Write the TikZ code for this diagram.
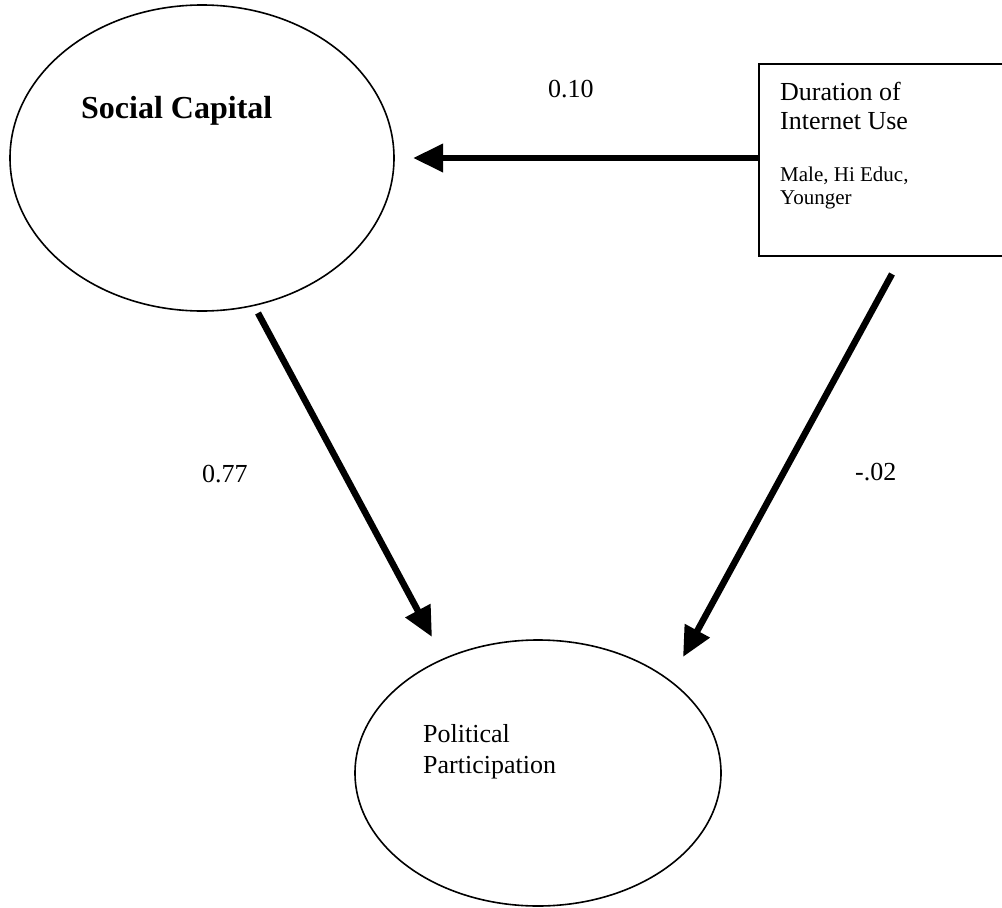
\documentclass[tikz,border=0pt]{standalone}
\usepackage{fontspec}
\setmainfont{Liberation Serif}
\usetikzlibrary{shapes.geometric,arrows.meta}
\begin{document}
\begin{tikzpicture}[x=1pt,y=-1pt,
  latent/.style={draw, ellipse, line width=1.6pt, inner sep=0pt},
  observed/.style={draw, rectangle, line width=2.2pt, inner sep=0pt},
  txt/.style={anchor=base west, inner sep=0pt, font=\fontsize{26}{30}\selectfont},
  smalltxt/.style={anchor=base west, inner sep=0pt, font=\fontsize{21}{23}\selectfont},
  effect/.style={line width=6.5pt, -{Triangle[length=30pt,width=27pt]}}
]
\useasboundingbox (0,0) rectangle (1002,908);
\clip (0,0) rectangle (1002,908);

% constructs
\node[latent, minimum width=384pt, minimum height=306pt] (sc) at (202,158) {};
\node[latent, minimum width=366pt, minimum height=266pt] (pp) at (538,773) {};
\node[observed, minimum width=253pt, minimum height=192pt] (box) at (885.5,160) {};

% texts
\node[anchor=base west, inner sep=0pt, font=\fontsize{32}{36}\selectfont\bfseries] (sclabel) at (81,118) {Social Capital};
\node[txt] (dur1) at (780,100) {Duration of};
\node[txt] (dur2) at (780,129) {Internet Use};
\node[smalltxt] (cov1) at (780,181) {Male, Hi Educ,};
\node[smalltxt] (cov2) at (780,204) {Younger};
\node[txt] (pp1) at (423,742) {Political};
\node[txt] (pp2) at (423,773) {Participation};

% path coefficients
\node[txt] (c1) at (548,97) {0.10};
\node[txt] (c2) at (202,482) {0.77};
\node[txt] (c3) at (855,480) {-.02};

% connector ends
\coordinate (tip1) at (413,158);
\coordinate (s2) at (258,313);
\coordinate (tip2) at (432,637);
\coordinate (s3) at (892,274);
\coordinate (tip3) at (683,657);

% paths
\draw[effect] (box.west |- tip1) -- (tip1);
\draw[effect] (s2) -- (tip2);
\draw[effect] (s3) -- (tip3);
\end{tikzpicture}
\end{document}
